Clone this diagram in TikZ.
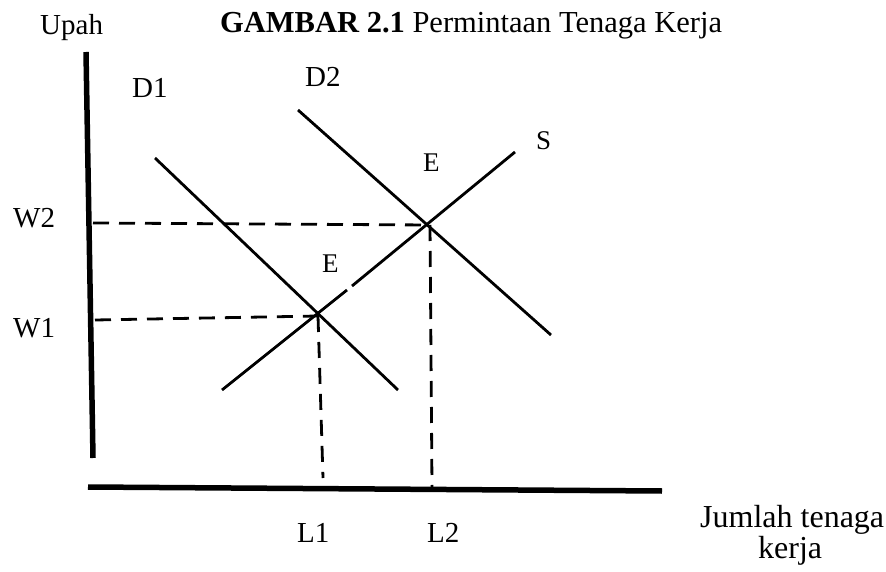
\documentclass[tikz,border=0pt]{standalone}
\usepackage{fontspec}
\setmainfont{Liberation Serif}
\begin{document}
\begin{tikzpicture}[x=1pt,y=-1pt,
  axis/.style={line width=5.5pt},
  curve/.style={line width=2.8pt},
  guide/.style={line width=2.8pt,dash pattern=on 16pt off 10pt},
  lbl/.style={inner sep=0pt,anchor=base west,font=\fontsize{29}{32}\selectfont},
  small/.style={font=\fontsize{27}{30}\selectfont},
  big/.style={font=\fontsize{32}{35}\selectfont}]
\useasboundingbox (0,0) rectangle (886,572);
% axes
\coordinate (ytop) at (86,52);
\coordinate (ybot) at (93,458);
\coordinate (xl) at (88,487);
\coordinate (xr) at (662,491);
\draw[axis] (ytop) -- (ybot);
\draw[axis] (xl) -- (xr);
% equilibria
\coordinate (E1) at (318,316);
\coordinate (E2) at (430,225);
% curves
\coordinate (d1a) at (155,158);
\coordinate (d1b) at (398,390);
\coordinate (d2a) at (298,110);
\coordinate (d2b) at (551,335);
\coordinate (sa) at (222,390);
\coordinate (sg1) at (347,290);
\coordinate (sg2) at (352,286);
\coordinate (sb) at (515,152);
\draw[curve] (d1a) -- (d1b);
\draw[curve] (d2a) -- (d2b);
\draw[curve] (sa) -- (sg1);
\draw[curve] (sg2) -- (sb);
% guides
\coordinate (w2) at (93,223);
\coordinate (w1) at (95,320);
\coordinate (l1) at (323,478);
\coordinate (l2) at (432,487);
\draw[guide] (w2) -- (E2);
\draw[guide] (w1) -- (E1);
\draw[guide] (E1) -- (l1);
\draw[guide] (E2) -- (l2);
% labels
\node[lbl] (upah) at (40,35) {Upah};
\node[lbl,font=\fontsize{30.5}{33}\selectfont] (title) at (220,33) {\textbf{GAMBAR 2.1} Permintaan Tenaga Kerja};
\node[lbl] (D1) at (132,98) {D1};
\node[lbl] (D2) at (305,87) {D2};
\node[lbl,small] (S) at (536,150) {S};
\node[lbl,small] (Eu) at (423,172) {E};
\node[lbl,small] (El) at (322,272) {E};
\node[lbl] (W2) at (13,228) {W2};
\node[lbl] (W1) at (13,337) {W1};
\node[lbl] (L1) at (297,542) {L1};
\node[lbl] (L2) at (427,542) {L2};
\node[lbl,big] (J1) at (700,527) {Jumlah tenaga};
\node[lbl,big] (J2) at (758,558) {kerja};
\end{tikzpicture}
\end{document}
